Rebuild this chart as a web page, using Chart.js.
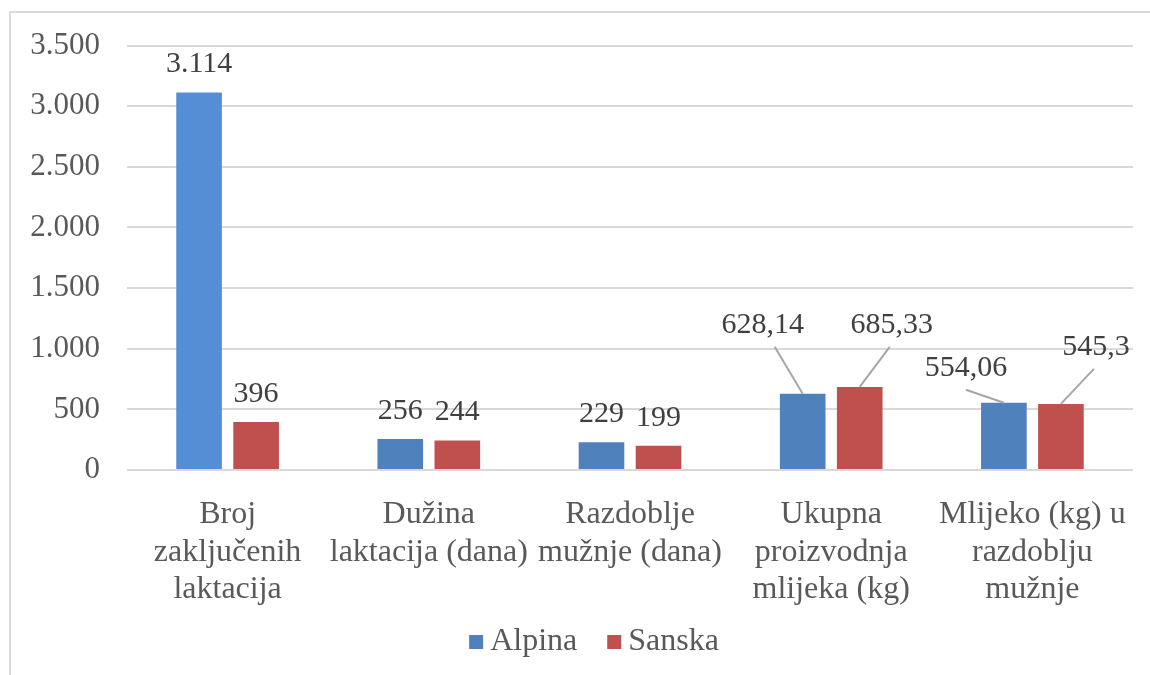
<!DOCTYPE html>
<html lang="hr">
<head>
    <meta charset="UTF-8">
    <title>Alpina / Sanska</title>
    <style>
        body { margin: 0; background: #fff; overflow: hidden; }
        .frame { position: absolute; left: 9px; top: 11px; width: 1200px; height: 700px; border: 2px solid #d9d9d9; }
        #chart { position: absolute; left: 0; top: 0; }
    </style>
</head>
<body>
    <div class="frame"></div>
    <canvas id="chart" width="1150" height="675"></canvas>

    <script src="https://cdn.jsdelivr.net/npm/chart.js"></script>
    <script>
        // podaci
        const categories = [
            ['Broj', 'zaključenih', 'laktacija'],
            ['Dužina', 'laktacija (dana)'],
            ['Razdoblje', 'mužnje (dana)'],
            ['Ukupna', 'proizvodnja', 'mlijeka (kg)'],
            ['Mlijeko (kg) u', 'razdoblju', 'mužnje']
        ];
        const alpina = [3114, 256, 229, 628.14, 554.06];
        const sanska = [396, 244, 199, 685.33, 545.3];
        const yTicks = [0, 500, 1000, 1500, 2000, 2500, 3000, 3500];

        // pomaknute oznake s linijom [dx, dy, pocetak linije dx]
        const moved = {
            0: { 3: [-40, -69, 12], 4: [-38, -35, 0] },
            1: { 3: [32, -62, -2], 4: [35, -57, -2] }
        };

        const fmt = (v) => {
            const p = String(v).split('.');
            p[0] = p[0].replace(/\B(?=(\d{3})+(?!\d))/g, '.');
            return p.join(',');
        };

        const font = "'Liberation Serif', 'DejaVu Serif', serif";
        Chart.defaults.font.family = font;

        const valueLabels = {
            id: 'valueLabels',
            afterDatasetsDraw(chart) {
                const ctx = chart.ctx;
                ctx.save();
                ctx.font = '30px ' + font;
                ctx.textAlign = 'center';
                ctx.textBaseline = 'middle';
                chart.data.datasets.forEach((ds, di) => {
                    chart.getDatasetMeta(di).data.forEach((bar, i) => {
                        const m = moved[di] && moved[di][i];
                        let x = bar.x, y = bar.y - 28;
                        if (m) {
                            x = bar.x + m[0];
                            y = bar.y + m[1];
                            ctx.strokeStyle = '#a6a6a6';
                            ctx.lineWidth = 2;
                            ctx.beginPath();
                            ctx.moveTo(x + m[2], y + 22);
                            ctx.lineTo(bar.x, bar.y);
                            ctx.stroke();
                        }
                        ctx.fillStyle = '#404040';
                        ctx.fillText(fmt(ds.data[i]), x, y);
                    });
                });
                ctx.restore();
            }
        };

        // legenda u stilu Excela
        const excelLegend = {
            id: 'excelLegend',
            afterDraw(chart) {
                const ctx = chart.ctx;
                const items = chart.data.datasets.map(ds => ({
                    text: ds.label,
                    color: ds.legendColor
                }));
                ctx.save();
                ctx.font = '32px ' + font;
                ctx.textBaseline = 'middle';
                const box = 14, gap = 7, between = 30;
                let total = 0;
                items.forEach((it, i) => {
                    it.w = ctx.measureText(it.text).width;
                    total += box + gap + it.w + (i ? between : 0);
                });
                let x = 594 - total / 2;
                const y = 642;
                items.forEach((it) => {
                    ctx.fillStyle = it.color;
                    ctx.fillRect(x, y - box / 2, box, box);
                    x += box + gap;
                    ctx.fillStyle = '#595959';
                    ctx.fillText(it.text, x, y);
                    x += it.w + between;
                });
                ctx.restore();
            }
        };

        new Chart(document.getElementById('chart'), {
            type: 'bar',
            data: {
                labels: categories,
                datasets: [
                    {
                        label: 'Alpina',
                        data: alpina,
                        backgroundColor: ['#558ED5', '#4F81BD', '#4F81BD', '#4F81BD', '#4F81BD'],
                        legendColor: '#4F81BD',
                        categoryPercentage: 0.567,
                        barPercentage: 0.8
                    },
                    {
                        label: 'Sanska',
                        data: sanska,
                        backgroundColor: '#C0504D',
                        legendColor: '#C0504D',
                        categoryPercentage: 0.567,
                        barPercentage: 0.8
                    }
                ]
            },
            options: {
                responsive: false,
                animation: false,
                layout: { padding: { left: 28, right: 17, top: 40, bottom: 59 } },
                plugins: {
                    tooltip: { enabled: false },
                    legend: { display: false }
                },
                scales: {
                    x: {
                        grid: { display: false },
                        border: { display: false },
                        ticks: {
                            color: '#595959',
                            font: { size: 32, lineHeight: 1.17 },
                            padding: 18,
                            maxRotation: 0,
                            autoSkip: false
                        },
                        afterFit: (s) => { s.height = 146; }
                    },
                    y: {
                        min: 0,
                        max: 3500,
                        afterBuildTicks: (s) => { s.ticks = yTicks.map(v => ({ value: v })); },
                        grid: { color: '#d9d9d9', lineWidth: 2, drawTicks: false },
                        border: { display: false },
                        ticks: {
                            color: '#595959',
                            font: { size: 31 },
                            padding: 27,
                            callback: (v) => fmt(v)
                        },
                        afterFit: (s) => { s.width = 99; }
                    }
                }
            },
            plugins: [valueLabels, excelLegend]
        });
    </script>
</body>
</html>
